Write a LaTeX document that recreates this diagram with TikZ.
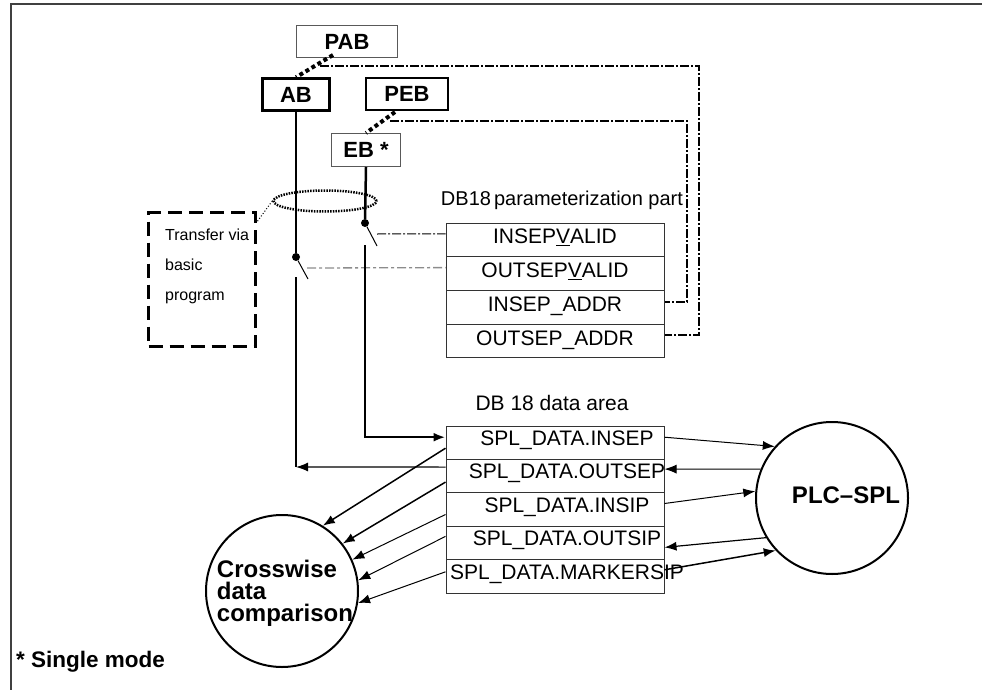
\documentclass[tikz,border=0pt]{standalone}
\usepackage{fontspec}
\setmainfont{Liberation Sans}
\usetikzlibrary{arrows.meta,shapes.geometric}
\begin{document}
\begin{tikzpicture}[x=1pt,y=-1pt,
  fsz/.style={font=\fontsize{#1pt}{#1pt}\selectfont},
  bfsz/.style={font=\fontsize{#1pt}{#1pt}\selectfont\bfseries},
  thinbox/.style={draw=black!65, line width=1pt, inner sep=0pt, bfsz=22},
  thickbox/.style={draw, line width=2.5pt, inner sep=0pt, bfsz=22},
  prow/.style={draw=black!80, line width=1pt, minimum width=218pt, minimum height=33.75pt, inner xsep=0pt, inner ysep=0pt, text height=20.9pt, text depth=12.85pt, fsz=21},
  drow/.style={draw=black!80, line width=1pt, minimum width=218pt, minimum height=33.4pt, inner xsep=0pt, inner ysep=0pt, text height=19.5pt, text depth=13.9pt, fsz=21},
  wire/.style={line width=2.5pt},
  dotwire/.style={line width=4pt, dash pattern=on 4pt off 3pt},
  dd/.style={line width=1.3pt, dash pattern=on 9pt off 2pt on 2pt off 2pt},
  ddgray/.style={line width=1.3pt, black!45, dash pattern=on 9pt off 3pt on 3pt off 3pt},
  arr/.style={-{Latex[length=12pt,width=9pt]}},
  bubble/.style={circle, draw, line width=2pt, minimum size=152pt, inner sep=0pt},
  swdot/.style={circle, fill, inner sep=0pt, minimum size=8pt},
]
\useasboundingbox (0,0) rectangle (982,690);
\draw[line width=1.5pt, black!75] (11,690) -- (11,4) -- (982,4);

% top boxes
\node[thinbox, minimum width=101pt, minimum height=32pt] (pab) at (347,42) {PAB};
\node[thickbox, minimum width=67pt, minimum height=32pt] (ab) at (296,94.5) {AB};
\node[thickbox, minimum width=82pt, minimum height=32pt] (peb) at (407,94) {PEB};
\node[thinbox, minimum width=69pt, minimum height=33pt] (eb) at (366,150) {EB *};

\coordinate (pabfoot) at (333,55);
\coordinate (pebfoot) at (395,112);
\draw[dotwire] (pabfoot) -- (ab.north);
\draw[dotwire] (pebfoot) -- (eb.north);

% parameterization part
\node[fsz=20] (ptitle) at (562,200) {DB18\hspace{3pt}parameterization part};
\node[prow] (p1) at (555,239.9) {INSEP\underline{V}ALID};
\node[prow] (p2) at (555,273.6) {OUTSEP\underline{V}ALID};
\node[prow] (p3) at (555,307.4) {INSEP\_ADDR};
\node[prow] (p4) at (555,341.1) {OUTSEP\_ADDR};

% dash-dot control lines
\coordinate (tap1) at (320,66);
\coordinate (tap2) at (390,121);
\coordinate (c1) at (699,66);
\coordinate (c2) at (687,121);
\draw[dd] (tap1) -- (c1) |- ([yshift=6pt]p4.east);
\draw[dd] (tap2) -- (c2) |- ([yshift=5.5pt]p3.east);

% switches
\node[swdot] (s1) at (365,223) {};
\node[swdot] (s2) at (296,257) {};
\coordinate (b1) at (377,246);
\coordinate (b2) at (308,279);
\coordinate (l1) at (365,245);
\coordinate (l2) at (296,277);
\coordinate (abend) at (296,467);
\draw[wire] (eb.south) -- (s1);
\draw[wire] (ab.south) -- (s2);
\draw[line width=1pt] (s1) -- (b1);
\draw[line width=1pt] (s2) -- (b2);
\coordinate (a1) at (377,234);
\coordinate (a2) at (307,268);
\draw[dd, line width=1pt] (a1) -- ([yshift=6pt]p1.west);
\draw[ddgray] (a2) -- ([yshift=6pt]p2.west);

% bundle and transfer box
\node[ellipse, draw, line width=2.5pt, dash pattern=on 1.5pt off 1.2pt, minimum width=103pt, minimum height=21pt, inner sep=0pt] (bundle) at (325,201) {};
\node[draw, line width=2.5pt, dash pattern=on 14pt off 7pt, minimum width=107pt, minimum height=134pt, inner sep=0pt] (tvb) at (202,279.5) {};
\node[font=\fontsize{16pt}{30pt}\selectfont, align=left, anchor=west, inner sep=0pt] (tvbtxt) at (165,266) {Transfer via\\basic\\program};
\draw[line width=1pt, dotted] (bundle.west) -- ([yshift=-11pt]tvb.north east);

% data area
\node[fsz=21] (dtitle) at (552,403) {DB 18 data area};
\node[drow] (d1) at (555,442.7) {\makebox[0pt]{\hspace*{24pt}SPL\_DATA.INSEP}};
\node[drow] (d2) at (555,476.1) {\makebox[0pt]{\hspace*{24pt}SPL\_DATA.OUTSEP}};
\node[drow] (d3) at (555,509.5) {\makebox[0pt]{\hspace*{24pt}SPL\_DATA.INSIP}};
\node[drow] (d4) at (555,542.9) {\makebox[0pt]{\hspace*{24pt}SPL\_DATA.OUTSIP}};
\node[drow] (d5) at (555,576.3) {\makebox[0pt]{\hspace*{24pt}SPL\_DATA.MARKERSIP}};

% wires into data area
\draw[wire, arr] (l1) |- ([yshift=5.5pt]d1.west);
\draw[wire] (l2) -- (abend);
\draw[line width=1.2pt, arr] ([yshift=9pt]d2.west) -- (abend);

% circles
\node[bubble] (cw) at (282,591) {};
\node[font=\fontsize{24pt}{22pt}\selectfont\bfseries, align=left, inner sep=0pt] (cwtxt) at (285,593) {Crosswise\\data\\comparison};
\node[bubble] (plc) at (832,498) {};
\node[bfsz=24] (plctxt) at (846,495) {PLC--SPL};

% arrows to crosswise comparison
\draw[line width=1.5pt, arr] ([yshift=-5.5pt]d1.west) -- (cw.58);
\draw[line width=1.5pt, arr] ([yshift=-6pt]d2.west) -- (cw.38);
\draw[line width=1pt, arr] ([yshift=-5pt]d3.west) -- (cw.24);
\draw[line width=1pt, arr] ([yshift=6.5pt]d4.west) -- (cw.8);
\draw[line width=1pt, arr] ([yshift=4.5pt]d5.west) -- (cw.-9);

% arrows with PLC
\draw[line width=1pt, arr] ([yshift=5.5pt]d1.east) -- (plc.138);
\draw[line width=1pt, arr] (plc.158) -- ([yshift=7pt]d2.east);
\draw[line width=1pt, arr] ([yshift=6pt]d3.east) -- (plc.175.5);
\draw[line width=1.2pt, arr] (plc.211) -- ([yshift=-4.5pt]d4.east);
\draw[line width=1.5pt, arr] ([yshift=6.5pt]d5.east) -- (plc.223);

\node[bfsz=22.5, anchor=west, inner sep=0pt] (note) at (16,662) {* Single mode};
\end{tikzpicture}
\end{document}
